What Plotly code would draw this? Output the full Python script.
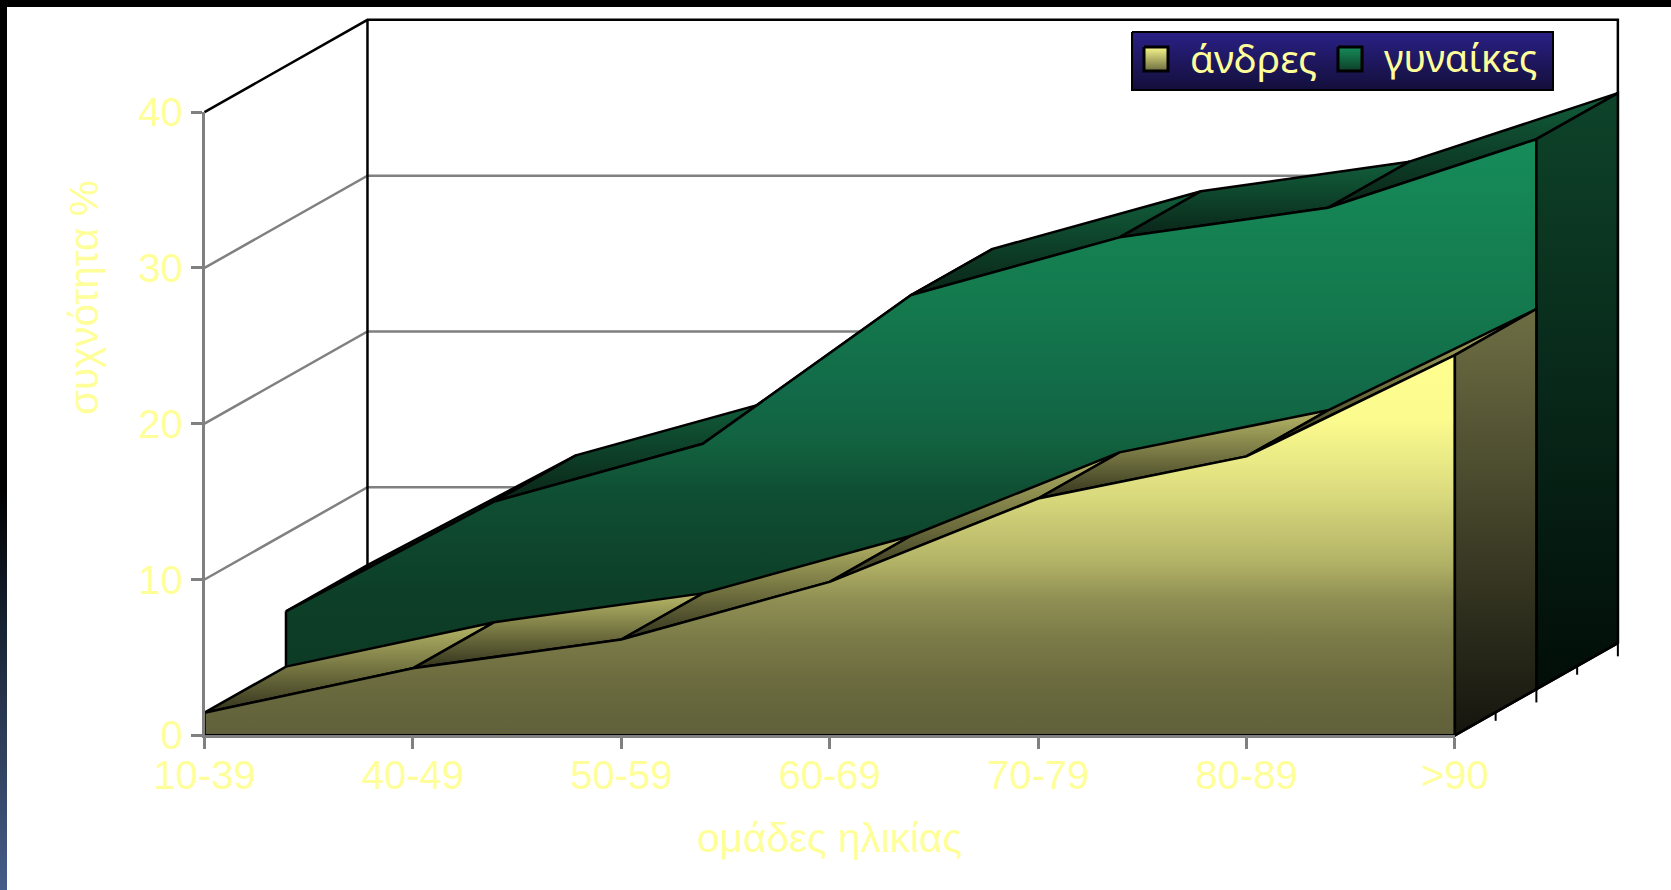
import plotly.graph_objects as go

categories = ["10-39", "40-49", "50-59", "60-69", "70-79", "80-89", ">90"]
men = [1.45, 4.3, 6.15, 9.85, 15.2, 17.9, 24.4]
women = [5.0, 12.05, 15.75, 25.3, 29.0, 30.9, 35.3]
y_ticks = [0, 10, 20, 30, 40]
men_name = "άνδρες"
women_name = "γυναίκες"
x_title = "ομάδες ηλικίας"
y_title = "συχνότητα %"

W, H = 1671, 890
X0, Y0, CAT, UNIT = 204.5, 735.3, 208.4, 15.58
DX, DY = 0.782, 5.92      # depth vector in category / value units
YEL = "#FFFF99"
GREY = "#808080"
FONT = "Liberation Sans"
LW = 2.5

MEN_FRONT = [[0, "#60603a"], [0.15, "#6c6c40"], [0.25, "#7a7a48"], [0.36, "#909054"],
             [0.46, "#b4b468"], [0.655, "#dede80"], [0.83, "#fbfb8e"], [1, "#ffff90"]]
WOMEN_FRONT = [[0, "#0d3a25"], [0.18, "#0d3f28"], [0.36, "#0f4f33"], [0.45, "#126240"],
               [0.54, "#126a48"], [0.71, "#147a4e"], [1, "#168c5a"]]
MEN_TOP = [[0, "#33331d"], [1, "#b8b868"]]
WOMEN_TOP = [[0, "#0a2417"], [1, "#115f3c"]]
MEN_SIDE = [[0, "#15150e"], [1, "#6e6e44"]]
WOMEN_SIDE = [[0, "#020d08"], [1, "#0e432a"]]


def P(i, v, d):
    return i + d * DX, v + d * DY


def poly(points, scale, xa="x", ya="y", lw=LW):
    xs = [p[0] for p in points] + [points[0][0]]
    ys = [p[1] for p in points] + [points[0][1]]
    return go.Scatter(x=xs, y=ys, xaxis=xa, yaxis=ya, mode="lines", fill="toself",
                      line=dict(color="black", width=lw),
                      fillgradient=dict(type="vertical", colorscale=scale,
                                        start=min(ys), stop=max(ys)),
                      hoverinfo="skip", showlegend=False)


def seg(points, color, width=LW, xa="x", ya="y"):
    return go.Scatter(x=[p[0] for p in points], y=[p[1] for p in points], xaxis=xa, yaxis=ya,
                      mode="lines", line=dict(color=color, width=width),
                      hoverinfo="skip", showlegend=False, cliponaxis=False)


fig = go.Figure()
n = len(categories)
last = n - 1

# walls
for t in y_ticks[1:-1]:
    fig.add_trace(seg([P(0, t, 0), P(0, t, 1), P(last, t, 1)], GREY))
fig.add_trace(seg([P(0, 40, 0), P(0, 40, 1), P(last, 40, 1), P(last, 0, 1)], "black"))
fig.add_trace(seg([P(0, 40, 1), P(0, 0, 1)], "black"))


def series(values, d0, d1, front, top, side):
    for i in range(n - 1):
        fig.add_trace(poly([P(i, values[i], d0), P(i + 1, values[i + 1], d0),
                            P(i + 1, values[i + 1], d1), P(i, values[i], d1)], top))
    fig.add_trace(poly([P(i, values[i], d0) for i in range(n)]
                       + [P(last, 0, d0), P(0, 0, d0)], front))
    fig.add_trace(poly([P(last, values[-1], d0), P(last, values[-1], d1),
                        P(last, 0, d1), P(last, 0, d0)], side))


series(women, 0.5, 1.0, WOMEN_FRONT, WOMEN_TOP, WOMEN_SIDE)
series(men, 0.0, 0.5, MEN_FRONT, MEN_TOP, MEN_SIDE)

# depth axis
fig.add_trace(seg([P(last, 0, 0), P(last, 0, 1)], "black"))
for d, ln in [(0.25, 0.55), (0.5, 0.85), (0.75, 0.55), (1.0, 0.85)]:
    x, y = P(last, 0, d)
    fig.add_trace(seg([(x, y), (x, y - ln)], "black", 2))

# native front axes
fig.add_trace(go.Scatter(x=[0, last], y=[0, 40], xaxis="x2", yaxis="y2", mode="lines",
                         line=dict(width=0, color="rgba(0,0,0,0)"), hoverinfo="skip", showlegend=False))
fig.add_trace(seg([(last, 0), (last, -0.72)], "black", LW, "x2", "y2"))

# page furniture, in page pixels
fig.add_trace(poly([(0, 0), (W, 0), (W, 7), (0, 7)], [[0, "black"], [1, "black"]], "x3", "y3", 0))
fig.add_trace(poly([(0, 0), (7, 0), (7, H), (0, H)],
                   [[0, "#000000"], [0.55, "#000000"], [0.72, "#1a2638"], [0.83, "#2d3d58"], [1, "#455d8a"]],
                   "x3", "y3", 0))
fig.add_trace(poly([(1132, 32), (1553, 32), (1553, 90), (1132, 90)],
                   [[0, "#2a2086"], [1, "#130f3a"]], "x3", "y3", 2))
fig.add_trace(poly([(1144, 47), (1168, 47), (1168, 71), (1144, 71)],
                   [[0, "#f8f88c"], [1, "#6c6c40"]], "x3", "y3", 3))
fig.add_trace(poly([(1338, 47), (1362, 47), (1362, 71), (1338, 71)],
                   [[0, "#168c5a"], [1, "#0d3f28"]], "x3", "y3", 3))

page_axis = dict(visible=False, fixedrange=True, automargin=False)
fig.update_layout(
    width=W, height=H, margin=dict(l=0, r=0, t=0, b=0),
    paper_bgcolor="white", plot_bgcolor="rgba(0,0,0,0)",
    font=dict(family=FONT, color=YEL, size=40),
    showlegend=False,
    xaxis=dict(visible=False, automargin=False, domain=[0, 1], anchor="y",
               range=[-X0 / CAT, (W - X0) / CAT]),
    yaxis=dict(visible=False, automargin=False, domain=[0, 1], anchor="x",
               range=[(Y0 - H) / UNIT, Y0 / UNIT]),
    xaxis2=dict(domain=[X0 / W, (X0 + last * CAT) / W], anchor="y2", range=[0, last], automargin=False,
                tickmode="array", tickvals=list(range(n)), ticktext=categories,
                showgrid=False, zeroline=False, showline=True, linecolor=GREY, linewidth=2.5,
                ticks="outside", ticklen=11, tickwidth=2.5, tickcolor=GREY, ticklabelstandoff=-8,
                tickfont=dict(family=FONT, size=40, color=YEL)),
    yaxis2=dict(domain=[(H - Y0) / H, (H - Y0 + 40 * UNIT) / H], anchor="x2", range=[0, 40], automargin=False,
                tickmode="array", tickvals=y_ticks,
                showgrid=False, zeroline=False, showline=True, linecolor=GREY, linewidth=2.5,
                ticks="outside", ticklen=11, tickwidth=2.5, tickcolor=GREY,
                tickfont=dict(family=FONT, size=40, color=YEL)),
    xaxis3=dict(domain=[0, 1], anchor="y3", range=[0, W], **page_axis),
    yaxis3=dict(domain=[0, 1], anchor="x3", range=[H, 0], **page_axis),
    annotations=[
        dict(text=x_title, x=829, y=838, xref="x3", yref="y3", showarrow=False,
             font=dict(family=FONT, size=40.6, color=YEL)),
        dict(text=y_title, x=84, y=298, xref="x3", yref="y3", textangle=-90, showarrow=False,
             font=dict(family=FONT, size=40.4, color=YEL)),
        dict(text=men_name, x=1253, y=57, xref="x3", yref="y3", showarrow=False,
             font=dict(family="Noto Sans", size=39, color=YEL)),
        dict(text=women_name, x=1460, y=57, xref="x3", yref="y3", showarrow=False,
             font=dict(family="Noto Sans", size=38, color=YEL)),
    ],
)

fig.write_html("out.html", config=dict(displayModeBar=False),
               post_script="document.body.style.margin='0';document.body.style.overflow='hidden';")
